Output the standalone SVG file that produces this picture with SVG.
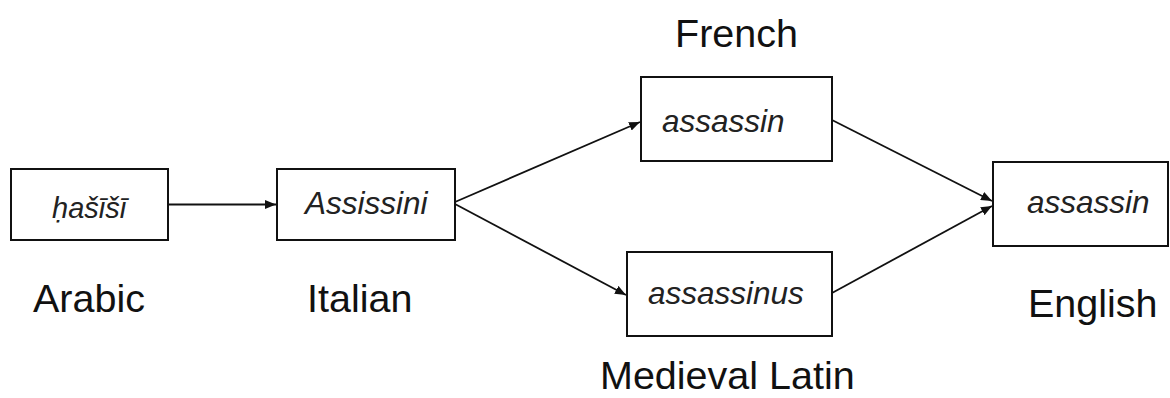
<svg xmlns="http://www.w3.org/2000/svg" width="1170" height="398" viewBox="0 0 1170 398">
<style>
.box{fill:#fff;stroke:#111;stroke-width:2}
.w{font-family:"Liberation Sans",Arial,sans-serif;font-style:italic;font-size:31.5px;fill:#222}
.lab{font-family:"Liberation Sans",Arial,sans-serif;font-size:39.5px;fill:#111}
.c{fill:none;stroke:#111;stroke-width:1.8}
</style>
<defs>
<marker id="ah" viewBox="0 0 11 9" refX="11" refY="4.5" markerWidth="11" markerHeight="9" markerUnits="userSpaceOnUse" orient="auto">
<path d="M0,0 L11,4.5 L0,9 Z" fill="#111"/>
</marker>
</defs>
<rect width="1170" height="398" fill="#fff"/>
<g id="connectors">
<line class="c" x1="168" y1="204.5" x2="276" y2="204.5" marker-end="url(#ah)"/>
<line class="c" x1="455" y1="202" x2="640" y2="122" marker-end="url(#ah)"/>
<line class="c" x1="455" y1="204" x2="626" y2="295" marker-end="url(#ah)"/>
<line class="c" x1="832" y1="120" x2="992" y2="201" marker-end="url(#ah)"/>
<line class="c" x1="832" y1="293" x2="992" y2="206" marker-end="url(#ah)"/>
</g>
<g id="arabic">
<rect class="box" x="11" y="169" width="157" height="71"/>
<text class="w" x="52" y="218" style="font-size:29px">ḥašīšī</text>
<text class="lab" x="33" y="312">Arabic</text>
</g>
<g id="italian">
<rect class="box" x="277" y="169" width="178" height="71"/>
<text class="w" x="305" y="214">Assissini</text>
<text class="lab" x="307" y="312">Italian</text>
</g>
<g id="french">
<rect class="box" x="641" y="77" width="191" height="84"/>
<text class="w" x="662" y="132">assassin</text>
<text class="lab" x="675" y="47">French</text>
</g>
<g id="latin">
<rect class="box" x="627" y="252" width="205" height="84"/>
<text class="w" x="648" y="304">assassinus</text>
<text class="lab" x="600" y="389">Medieval Latin</text>
</g>
<g id="english">
<rect class="box" x="993" y="162" width="175" height="84"/>
<text class="w" x="1027" y="213">assassin</text>
<text class="lab" x="1028" y="317">English</text>
</g>
</svg>
